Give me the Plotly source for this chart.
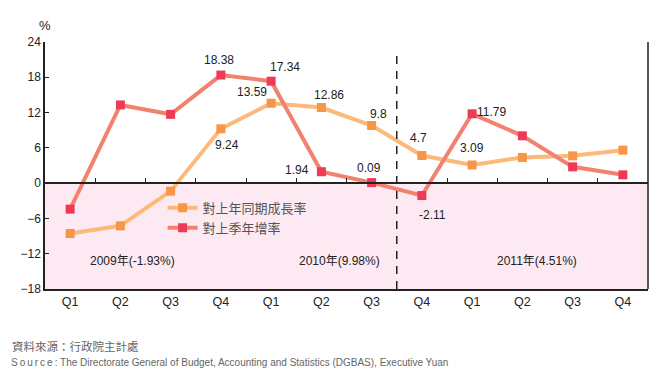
import plotly.graph_objects as go

quarters = ["Q1", "Q2", "Q3", "Q4", "Q1", "Q2", "Q3", "Q4", "Q1", "Q2", "Q3", "Q4"]
yoy_growth = [-8.56, -7.26, -1.36, 9.24, 13.59, 12.86, 9.8, 4.7, 3.09, 4.37, 4.64, 5.61]
qoq_saar = [-4.42, 13.3, 11.7, 18.38, 17.34, 1.94, 0.09, -2.11, 11.79, 8.05, 2.77, 1.41]
yoy_labeled = [3, 4, 5, 6, 7, 8]
qoq_labeled = [3, 4, 5, 6, 7, 8]
year_labels = ["2009年(-1.93%)", "2010年(9.98%)", "2011年(4.51%)"]
series_names = ["對上年同期成長率", "對上季年增率"]
y_ticks = [-18, -12, -6, 0, 6, 12, 18, 24]

NUM_FONT = "Liberation Sans Narrow, Arial Narrow, Liberation Sans, Arial, sans-serif"
CJK_FONT = "Liberation Sans Narrow, Arial Narrow, Liberation Sans, Noto Sans CJK TC, sans-serif"

x_idx = list(range(len(quarters)))

fig = go.Figure()
fig.add_trace(go.Scatter(
    x=x_idx, y=yoy_growth, name=series_names[0], mode="lines+markers",
    line=dict(color="#FDB97A", width=4),
    marker=dict(symbol="square", size=9, color="#F79646"),
))
fig.add_trace(go.Scatter(
    x=x_idx, y=qoq_saar, name=series_names[1], mode="lines+markers",
    line=dict(color="#F2826F", width=4),
    marker=dict(symbol="square", size=9, color="#EE3A57"),
))
# helper axis at zero line (ticks between categories)
fig.add_trace(go.Scatter(x=[], y=[], xaxis="x2", showlegend=False, hoverinfo="skip"))

# label offsets (px) per labeled index
yoy_off = {3: (6, -16), 4: (-19, 11), 5: (8, 13), 6: (7, 12), 7: (-3, 18), 8: (0, 17)}
qoq_off = {3: (-2, 15), 4: (14, 14), 5: (-24, 2), 6: (-3, 15), 7: (11, -19), 8: (19, 2)}

annotations = []
for i in yoy_labeled:
    dx, dy = yoy_off[i]
    annotations.append(dict(x=i, y=yoy_growth[i], text=f"{yoy_growth[i]:g}", showarrow=False,
                            xshift=dx, yshift=dy, font=dict(family=NUM_FONT, size=12, color="#222")))
for i in qoq_labeled:
    dx, dy = qoq_off[i]
    annotations.append(dict(x=i, y=qoq_saar[i], text=f"{qoq_saar[i]:g}", showarrow=False,
                            xshift=dx, yshift=dy, font=dict(family=NUM_FONT, size=12, color="#222")))

year_x = [1.24, 5.36, 9.3]
for xx, t in zip(year_x, year_labels):
    annotations.append(dict(x=xx, y=-13.3, text=t, showarrow=False,
                            font=dict(family=CJK_FONT, size=12, color="#222")))

annotations.append(dict(xref="paper", yref="paper", x=0.0, y=1.0, yshift=17, text="%",
                        showarrow=False, xanchor="center", yanchor="middle",
                        font=dict(family=NUM_FONT, size=13, color="#222")))
annotations.append(dict(xref="paper", yref="paper", x=-35/608, y=-57/247, text="資料來源：行政院主計處",
                        showarrow=False, xanchor="left", yanchor="middle",
                        font=dict(family="Noto Sans CJK TC, sans-serif", size=11.5, color="#666")))
annotations.append(dict(xref="paper", yref="paper", x=-36/608, y=-73/247,
                        text='<span style="letter-spacing:2px">Source</span>: The Directorate General of Budget, Accounting and Statistics (DGBAS), Executive Yuan',
                        showarrow=False, xanchor="left", yanchor="middle",
                        font=dict(family=NUM_FONT, size=10, color="#666")))

shapes = [
    dict(type="rect", xref="paper", yref="y", x0=0, x1=1, y0=-18, y1=0,
         fillcolor="#FDE9F1", line=dict(width=0), layer="below"),
    dict(type="line", xref="paper", yref="paper", x0=1, x1=1, y0=0, y1=1,
         line=dict(color="#222", width=1.5)),
    dict(type="line", xref="x", yref="y", x0=6.5, x1=6.5, y0=-18, y1=22.4,
         line=dict(color="#222", width=1.5, dash="8px,7px")),
]

fig.update_layout(
    width=661, height=370,
    margin=dict(l=32, r=21, t=34, b=89),
    paper_bgcolor="white", plot_bgcolor="rgba(0,0,0,0)",
    showlegend=True,
    legend=dict(x=0.195, y=0.389, xanchor="left", yanchor="top", bgcolor="rgba(0,0,0,0)",
                font=dict(family="Noto Sans CJK TC, sans-serif", size=13, color="#555"),
                tracegroupgap=0, itemwidth=30),
    xaxis=dict(range=[-0.5, 11.5], tickvals=x_idx, ticktext=quarters, ticks="",
               showline=True, linecolor="#222", linewidth=1.5, showgrid=False, zeroline=False,
               tickfont=dict(family=NUM_FONT, size=12.5, color="#222")),
    xaxis2=dict(range=[-0.5, 11.5], overlaying="x", anchor="free", position=18/42,
                tickvals=[i + 0.5 for i in range(11)], ticks="inside", ticklen=4, tickwidth=1.2,
                tickcolor="#222", showticklabels=False, showline=True, linecolor="#222",
                linewidth=1.5, showgrid=False, zeroline=False),
    yaxis=dict(range=[-18, 24], tickvals=y_ticks, ticks="inside", ticklen=4, tickwidth=1.2,
               tickcolor="#222", showline=True, linecolor="#222", linewidth=1.5,
               showgrid=False, zeroline=False,
               tickfont=dict(family=NUM_FONT, size=12, color="#222")),
    annotations=annotations,
    shapes=shapes,
)

fig.write_html("out.html")
